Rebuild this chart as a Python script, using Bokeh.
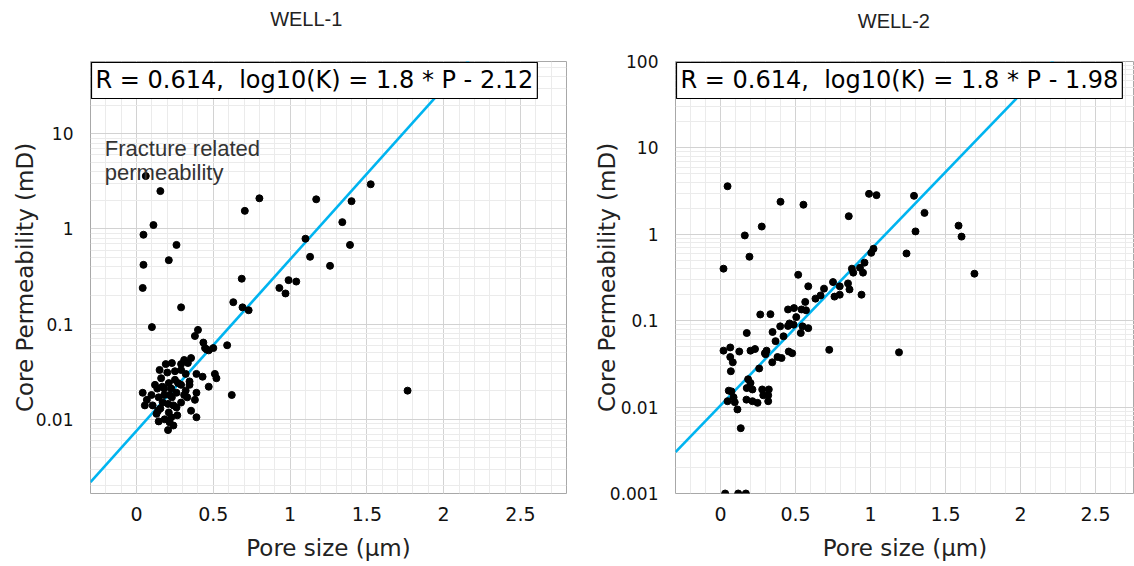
import numpy as np
from bokeh.plotting import figure
from bokeh.layouts import row
from bokeh.models import FixedTicker, PrintfTickFormatter, Range1d, Label, LinearAxis
from bokeh.embed import file_html
from bokeh.resources import INLINE

# ---------------- data ----------------
titles = ["WELL-1", "WELL-2"]
eq_texts = ["R = 0.614,\u00a0 log10(K) = 1.8 * P - 2.12",
            "R = 0.614,\u00a0 log10(K) = 1.8 * P - 1.98"]
fit_slope = [1.8, 1.8]
fit_intercept = [-2.12, -1.98]
x_ticks = [0, 0.5, 1, 1.5, 2, 2.5]
y_ticks = [0.001, 0.01, 0.1, 1, 10, 100]
annotation_text = ["Fracture related", "permeability"]

w1_pore = [0.06, 0.155, 0.11, 0.045, 0.26, 0.045, 0.21, 0.04, 0.29, 0.705, 0.80, 0.685,
           0.63, 0.69, 0.73, 0.10, 0.93, 0.97, 0.99, 1.04, 1.10, 1.13, 1.17, 1.26, 1.34,
           1.39, 1.40, 1.525, 1.765, 0.59, 0.62,
           0.40, 0.38, 0.435, 0.446, 0.47, 0.50, 0.457, 0.355, 0.31, 0.334, 0.29, 0.23,
           0.19, 0.15, 0.20, 0.25, 0.29, 0.32, 0.39, 0.43, 0.51, 0.52, 0.345, 0.345, 0.47,
           0.16, 0.12, 0.135, 0.21, 0.25, 0.29, 0.04, 0.067, 0.054, 0.105, 0.144, 0.18,
           0.215, 0.26, 0.31, 0.33, 0.39, 0.38, 0.17, 0.205, 0.24, 0.26, 0.14, 0.13, 0.21,
           0.226, 0.355, 0.39, 0.144, 0.183, 0.215, 0.24, 0.205,
           0.226, 0.27, 0.18, 0.32, 0.097, 0.155, 0.29, 0.23, 0.265, 0.168]
w1_perm = [3.6, 2.5, 1.1, 0.87, 0.68, 0.42, 0.47, 0.24, 0.15, 1.55, 2.1, 0.30,
           0.17, 0.15, 0.14, 0.093, 0.24, 0.21, 0.29, 0.28, 0.79, 0.51, 2.05, 0.41, 1.18,
           0.68, 1.96, 2.95, 0.02, 0.06, 0.018,
           0.087, 0.075, 0.064, 0.056, 0.053, 0.056, 0.054, 0.044, 0.042, 0.039, 0.038, 0.039,
           0.038, 0.033, 0.031, 0.032, 0.033, 0.030, 0.030, 0.028, 0.030, 0.027, 0.025, 0.023, 0.022,
           0.027, 0.023, 0.021, 0.024, 0.026, 0.023, 0.019, 0.016, 0.014, 0.014, 0.017, 0.018,
           0.018, 0.019, 0.018, 0.017, 0.019, 0.016, 0.015, 0.0145, 0.014, 0.0133, 0.0123, 0.0114, 0.0118,
           0.0105, 0.0123, 0.0105, 0.0095, 0.010, 0.0093, 0.0086, 0.0077,
           0.021, 0.024, 0.021, 0.020, 0.018, 0.013, 0.015, 0.017, 0.011, 0.022]

w2_pore = [0.047, 0.40, 0.553, 0.99, 1.04, 1.29, 1.36, 1.30, 0.855, 0.275, 0.162, 0.193,
           0.02, 1.24, 1.587, 1.607, 1.693, 0.518, 0.585, 1.005, 1.02, 0.96, 0.93, 0.95,
           0.876, 0.885, 0.94, 0.85, 0.86, 0.795, 0.795, 0.75, 0.76, 0.69, 0.667, 0.633,
           0.565, 0.54, 0.49, 0.45, 0.57, 0.505, 0.46, 0.45, 0.487, 0.547, 0.585, 0.535,
           0.265, 0.333, 0.398, 0.347, 0.42, 0.175, 0.367, 0.725, 1.19, 0.02, 0.065, 0.125,
           0.20, 0.23, 0.307, 0.296, 0.455, 0.478, 0.30, 0.345, 0.38, 0.407, 0.065, 0.082,
           0.069, 0.258, 0.184, 0.20, 0.175, 0.213, 0.278, 0.322, 0.318, 0.318, 0.285, 0.247,
           0.213, 0.173, 0.055, 0.073, 0.087, 0.047, 0.095, 0.113, 0.135, 0.031, 0.118, 0.169]
w2_perm = [3.6, 2.38, 2.2, 2.94, 2.84, 2.79, 1.77, 1.08, 1.62, 1.23, 0.97, 0.55,
           0.40, 0.60, 1.26, 0.94, 0.35, 0.34, 0.25, 0.61, 0.68, 0.47, 0.41, 0.36,
           0.40, 0.36, 0.20, 0.27, 0.23, 0.25, 0.20, 0.28, 0.19, 0.235, 0.196, 0.18,
           0.165, 0.135, 0.14, 0.135, 0.132, 0.11, 0.093, 0.087, 0.09, 0.086, 0.082, 0.072,
           0.118, 0.119, 0.086, 0.074, 0.066, 0.072, 0.058, 0.046, 0.043, 0.045, 0.049, 0.044,
           0.045, 0.047, 0.045, 0.042, 0.044, 0.042, 0.041, 0.033, 0.038, 0.037, 0.038, 0.033,
           0.026, 0.028, 0.021, 0.019, 0.0166, 0.016, 0.016, 0.016, 0.0137, 0.0117, 0.0137, 0.0112,
           0.0117, 0.0122, 0.0155, 0.0152, 0.013, 0.0117, 0.0114, 0.0094, 0.0057, 0.001, 0.001, 0.001]

# ---------------- styling ----------------
LINE_COLOR = "#00b4f0"
TICK_FONT = "DejaVu Sans"
LABEL_FONT = "DejaVu Sans"
TITLE_FONT = "Liberation Sans"
NBSP = "\u00a0"


def make_panel(idx, pore, perm, width, height, borders, x_end, y_start, y_end,
               title_pad, title_standoff, box_xy, ylabel_standoff):
    p = figure(width=width, height=height, y_axis_type="log",
               x_range=Range1d(-0.3, x_end), y_range=Range1d(y_start, y_end),
               output_backend="svg", toolbar_location=None,
               min_border_left=borders[0], min_border_right=borders[1],
               min_border_top=borders[2], min_border_bottom=borders[3])
    p.title.visible = False

    p.background_fill_color = "white"
    p.border_fill_color = "white"
    p.outline_line_color = "#a8a8a8"
    p.outline_line_width = 1

    minor_x = [round(v, 2) for v in np.arange(-0.3, 2.85, 0.1)]
    p.xaxis.ticker = FixedTicker(ticks=x_ticks, minor_ticks=minor_x)
    minor_y = [m * 10.0 ** e for e in range(-4, 3) for m in range(2, 10)]
    p.yaxis.ticker = FixedTicker(ticks=y_ticks, minor_ticks=minor_y)
    p.xaxis.formatter = PrintfTickFormatter(format="%g")
    p.yaxis.formatter = PrintfTickFormatter(format="%g")

    for ax in (p.xaxis[0], p.yaxis[0]):
        ax.axis_line_color = None
        ax.major_tick_line_color = None
        ax.minor_tick_line_color = None
        ax.major_tick_out = 0
        ax.major_label_text_font = TICK_FONT
        ax.major_label_text_color = "#111111"
        ax.axis_label_text_font = LABEL_FONT
        ax.axis_label_text_font_size = "23px"
        ax.axis_label_text_font_style = "normal"
        ax.axis_label_text_color = "#222222"
    p.xaxis.major_label_text_font_size = "19px"
    p.yaxis.major_label_text_font_size = "17px"
    p.xaxis.axis_label = "Pore size (\u03bcm)"
    p.yaxis.axis_label = "Core Permeability (mD)"
    p.xaxis.major_label_standoff = 9
    p.xaxis.axis_label_standoff = 11
    p.yaxis.major_label_standoff = 13
    p.yaxis.axis_label_standoff = ylabel_standoff

    # title drawn as the label of a tick-less axis above the frame
    tax = LinearAxis(ticker=FixedTicker(ticks=[]), axis_line_color=None,
                     major_tick_line_color=None, minor_tick_line_color=None,
                     major_tick_out=0, major_tick_in=0, minor_tick_out=0,
                     major_label_standoff=0,
                     axis_label=titles[idx] + NBSP * title_pad,
                     axis_label_standoff=title_standoff,
                     axis_label_text_font=TITLE_FONT,
                     axis_label_text_font_size="20px",
                     axis_label_text_font_style="normal",
                     axis_label_text_color="#222222")
    p.add_layout(tax, "above")

    for g in (p.xgrid[0], p.ygrid[0]):
        g.grid_line_color = "#d2d2d2"
        g.grid_line_width = 1
        g.minor_grid_line_color = "#ebebeb"
        g.minor_grid_line_width = 1

    # regression line
    xs = np.array([-0.3, 2.8])
    ys = 10 ** (fit_slope[idx] * xs + fit_intercept[idx])
    p.line(xs, ys, line_color=LINE_COLOR, line_width=2.6)

    p.scatter(pore, perm, size=7, fill_color="black", line_color="black")

    lab = Label(x=box_xy[0], y=box_xy[1], text=eq_texts[idx], anchor="top_left",
                text_align="left", text_baseline="top",
                text_font=LABEL_FONT, text_font_size="24px", text_color="black",
                padding=4, border_line_color="black", border_line_width=1.2,
                background_fill_color="white", background_fill_alpha=1.0)
    p.add_layout(lab)
    return p


p1 = make_panel(0, w1_pore, w1_perm, 570, 566, (90, 4, 61, 69), 2.8,
                10 ** -2.78, 10 ** 1.76, 8, 32, (-0.2935, 10 ** (1.76 - 1 / 96)), -5)
for i, t in enumerate(annotation_text):
    p1.add_layout(Label(x=-0.207, y=10 ** (0.85 - i * 0.26), text=t,
                        text_align="left", text_baseline="middle",
                        text_font=TITLE_FONT, text_font_size="22px",
                        text_color="#333333"))

p2 = make_panel(1, w2_pore, w2_perm, 564, 566, (105, 0, 55, 73), 2.76,
                0.001, 100, 4, 30, (-0.2933, 10 ** (2 - 1 / 87.6)), -13)

layout = row(p1, p2, spacing=0)
open("out.html", "w").write(file_html(layout, INLINE))
